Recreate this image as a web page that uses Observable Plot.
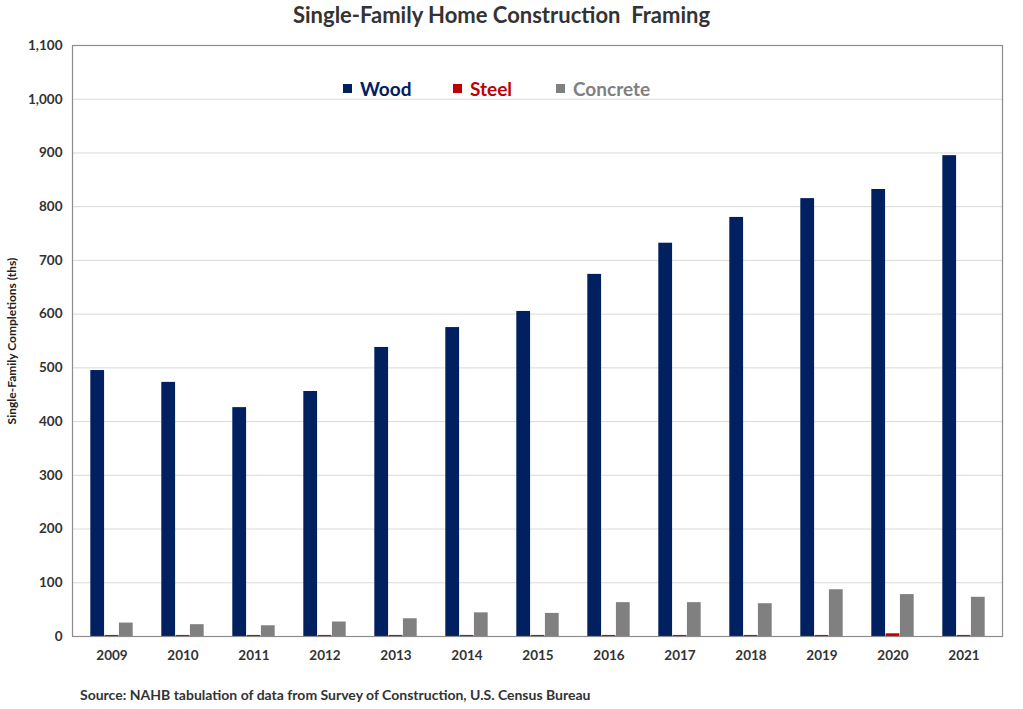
<!DOCTYPE html>
<html>
<head>
<meta charset="utf-8">
<script src="https://cdn.jsdelivr.net/npm/d3@7"></script>
<script src="https://cdn.jsdelivr.net/npm/@observablehq/plot@0.6"></script>
<style>
  html, body { margin: 0; padding: 0; background: #fff; overflow: hidden; }
  body { width: 1023px; height: 709px; font-family: Lato, "Open Sans", sans-serif; }
  #title { height: 30px; line-height: 30px; text-align: center; font-weight: bold; font-size: 22px; color: #333; white-space: pre; padding-right: 20px; }
  #wrap { position: relative; width: 1023px; height: 650px; }
  #legend .item { position: absolute; top: 47px; display: flex; align-items: center; font-weight: bold; font-size: 19px; }
  #legend .sw { width: 9px; height: 9px; margin-right: 8px; }
  #caption { height: 29px; line-height: 29px; padding-left: 80px; font-weight: bold; font-size: 14px; color: #333; }
</style>
</head>
<body>
<div id="title">Single-Family Home Construction  Framing</div>
<div id="wrap"><div id="legend"></div></div>
<div id="caption">Source: NAHB tabulation of data from Survey of Construction, U.S. Census Bureau</div>
<script>
const years = ["2009","2010","2011","2012","2013","2014","2015","2016","2017","2018","2019","2020","2021"];
const wood = [495, 473, 426, 456, 538, 575, 605, 674, 732, 780, 815, 832, 895];
const steel = [2, 2, 2, 2, 2, 2, 2, 2, 2, 2, 2, 5, 2];
const concrete = [25, 22, 20, 27, 33, 44, 43, 63, 63, 61, 87, 78, 73];
const yTicks = [0, 100, 200, 300, 400, 500, 600, 700, 800, 900, 1000, 1100];
const seriesNames = ["Wood", "Steel", "Concrete"];
const seriesColors = ["#002060", "#c00000", "#808080"];
const yLabel = "Single-Family Completions (ths)";

const W = 1023, H = 650;
const mL = 72, mR = 21, mT = 15, mB = 44;
const band = (W - mL - mR) / years.length;
const barW = band / 5;
const inset = (band - barW) / 2;

const rows = (vals) => years.map((y, i) => ({year: y, value: vals[i]}));
const seriesVals = [wood, steel, concrete];

const barMarks = seriesVals.map((vals, k) =>
  Plot.barY(rows(vals), {
    x: "year", y: "value", fill: seriesColors[k],
    insetLeft: inset, insetRight: inset, dx: (k - 1) * barW
  })
);

const chart = Plot.plot({
  width: W, height: H,
  marginLeft: mL, marginRight: mR, marginTop: mT, marginBottom: mB,
  style: {fontFamily: "Lato, 'Open Sans', sans-serif", fontWeight: "bold", fontSize: "13.5px", color: "#333", background: "#fff"},
  x: {domain: years, padding: 0, label: null, tickSize: 0, tickPadding: 14},
  y: {domain: [0, 1100], ticks: yTicks, tickFormat: d3.format(","), label: null, tickSize: 0, tickPadding: 10},
  marks: [
    Plot.ruleY(yTicks.filter(d => d > 0 && d < 1100), {stroke: "#d9d9d9", strokeWidth: 1}),
    ...barMarks,
    Plot.frame({stroke: "#8c8c8c", strokeWidth: 1.2}),
    Plot.text([yLabel], {frameAnchor: "left", textAnchor: "middle", rotate: -90, dx: -60, fontSize: 12, fontWeight: "bold", fill: "#222"})
  ]
});
document.getElementById("wrap").prepend(chart);

const legendLeft = [343, 453, 556];
const legend = document.getElementById("legend");
seriesNames.forEach((name, k) => {
  const it = document.createElement("div");
  it.className = "item";
  it.style.left = legendLeft[k] + "px";
  it.style.color = seriesColors[k];
  const sw = document.createElement("div");
  sw.className = "sw";
  sw.style.background = seriesColors[k];
  it.appendChild(sw);
  it.appendChild(document.createTextNode(name));
  legend.appendChild(it);
});
</script>
</body>
</html>
